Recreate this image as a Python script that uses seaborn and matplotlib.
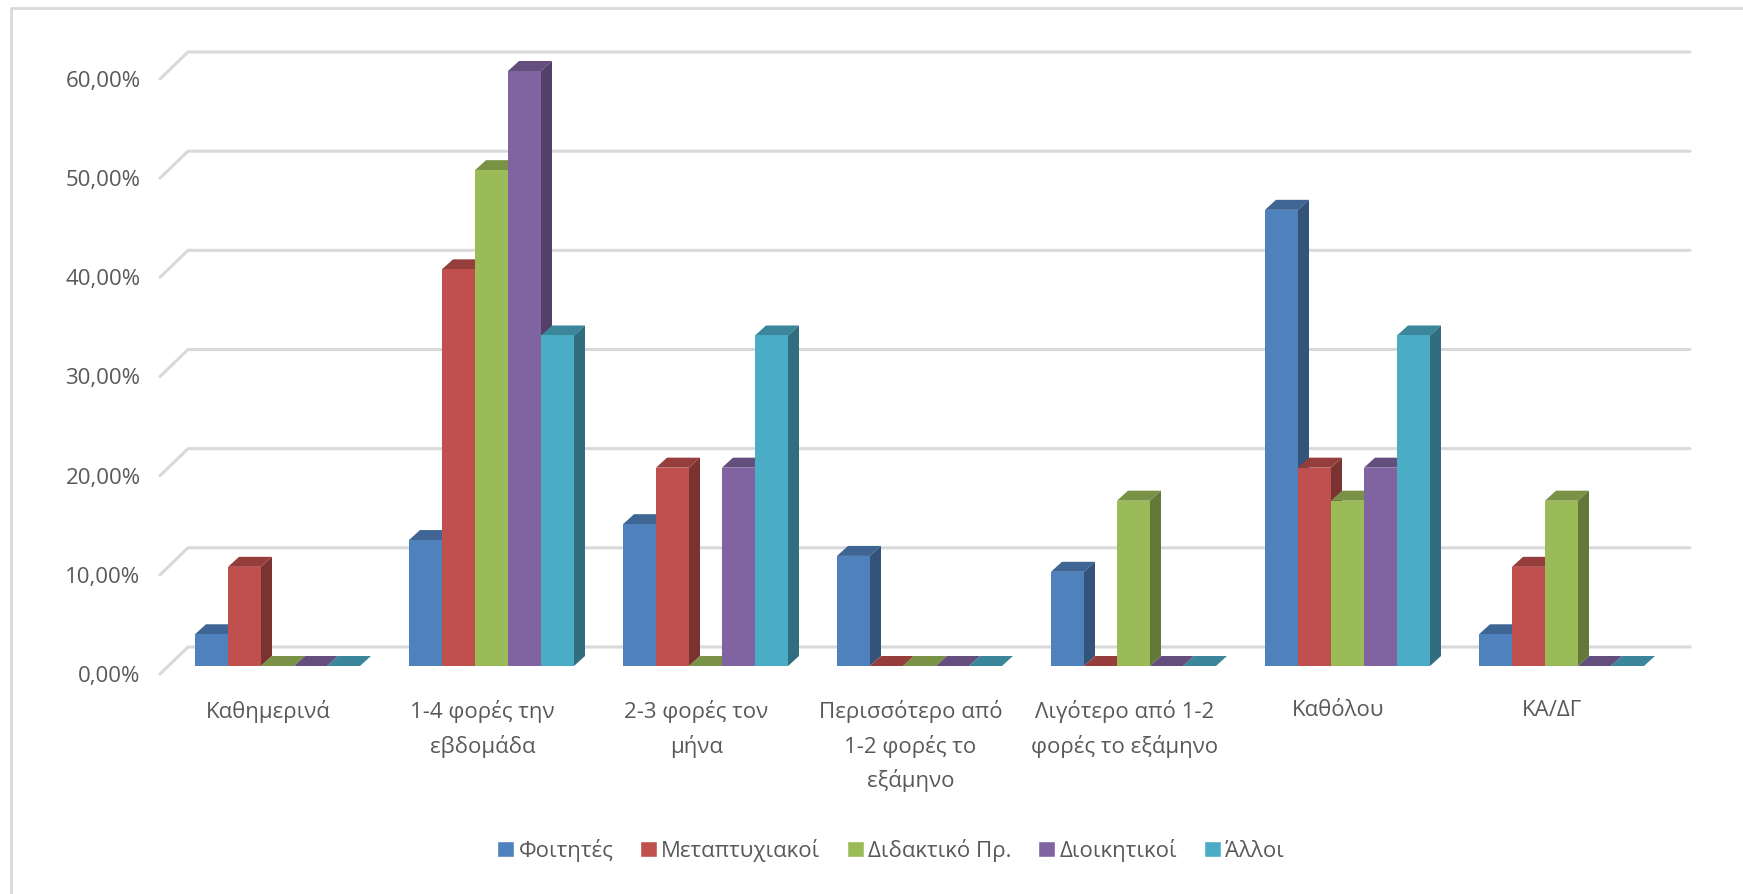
import matplotlib
matplotlib.use("Agg")
import matplotlib.pyplot as plt
import matplotlib.colors as mcolors
from matplotlib.lines import Line2D
from matplotlib.patches import Polygon
from matplotlib.transforms import ScaledTranslation
import pandas as pd
import seaborn as sns

categories = ["Καθημερινά", "1-4 φορές την\nεβδομάδα", "2-3 φορές τον\nμήνα",
              "Περισσότερο από\n1-2 φορές το\nεξάμηνο", "Λιγότερο από 1-2\nφορές το εξάμηνο",
              "Καθόλου", "ΚΑ/ΔΓ"]
series_names = ["Φοιτητές", "Μεταπτυχιακοί", "Διδακτικό Πρ.", "Διοικητικοί", "Άλλοι"]
foitites = [3.2, 12.7, 14.3, 11.1, 9.5, 46.0, 3.2]
metaptyx = [10.0, 40.0, 20.0, 0, 0, 20.0, 10.0]
didaktiko = [0, 50.0, 0, 0, 16.67, 16.67, 16.67]
dioikitikoi = [0, 60.0, 20.0, 0, 0, 20.0, 0]
alloi = [0, 33.33, 33.33, 0, 0, 33.33, 0]
colors = ["#4F81BD", "#C0504D", "#9BBB59", "#8064A2", "#4BACC6"]
yticks = [0, 10, 20, 30, 40, 50, 60]

W, H = 1743, 895
DPI = 100
TEXT = "#595959"
GRID = "#D9D9D9"

# pixel geometry of the chart, measured on the reference
LEFT, RIGHT, TOP, BASE = 160, 1690, 40, 667
PX_PER_UNIT = 595 / 60
PX_PER_CAT = 214
X0_PX = 277.5
DEPTH_X, DEPTH_Y = 11, 10

sns.set_theme(style="white")
plt.rcParams["font.family"] = ["Open Sans", "DejaVu Sans"]

rows = []
for name, vals in zip(series_names, [foitites, metaptyx, didaktiko, dioikitikoi, alloi]):
    for cat, v in zip(categories, vals):
        rows.append({"cat": cat, "series": name, "value": v})
df = pd.DataFrame(rows)

fig = plt.figure(figsize=(W / DPI, H / DPI), dpi=DPI)
ax = fig.add_axes([LEFT / W, 1 - BASE / H, (RIGHT - LEFT) / W, (BASE - TOP) / H])
ax.patch.set_alpha(0)

sns.barplot(df, x="cat", y="value", hue="series", order=categories, hue_order=series_names,
            palette=colors, width=165 / PX_PER_CAT, gap=0, saturation=1, ax=ax, errorbar=None)

ax.set_xlim((LEFT - X0_PX) / PX_PER_CAT, (RIGHT - X0_PX) / PX_PER_CAT)
ax.set_ylim(0, (BASE - TOP) / PX_PER_UNIT)
ax.set_xlabel("")
ax.set_ylabel("")
ax.set_yticks(yticks)
ax.set_yticklabels([f"{v:.2f}".replace(".", ",") + "%" for v in yticks])
sns.despine(ax=ax, left=True, bottom=True, top=True, right=True)
ax.grid(False)
ax.tick_params(axis="both", length=0, colors=TEXT, labelsize=16)
ax.tick_params(axis="y", pad=14)
ax.tick_params(axis="x", pad=24)

# offsets from the front of the bars, in data units
dx = DEPTH_X / PX_PER_CAT
dy = DEPTH_Y / PX_PER_UNIT

# gridlines on the back wall and floor, with the short diagonal towards the labels
for v in yticks:
    back_y = v + 19 / PX_PER_UNIT
    xs = [(160 - X0_PX) / PX_PER_CAT, (188 - X0_PX) / PX_PER_CAT, (RIGHT - X0_PX) / PX_PER_CAT]
    ys = [v - 8 / PX_PER_UNIT, back_y, back_y]
    ax.plot(xs, ys, color=GRID, lw=2.2, zorder=1, solid_joinstyle="round", clip_on=False)


def shade(color, f):
    r, g, b = mcolors.to_rgb(color)
    return (r * f, g * f, b * f)


# extruded tops and sides, each series drawn over the one before it
for i, cont in enumerate(ax.containers):
    z = 3 + i * 2
    for bar in cont:
        x, w, h = bar.get_x(), bar.get_width(), bar.get_height()
        bar.set_zorder(z + 1)
        bar.set_linewidth(0)
        ax.add_patch(Polygon([(x, h), (x + w, h), (x + w + dx, h + dy), (x + dx, h + dy)],
                             fc=shade(colors[i], 0.78), ec="none", zorder=z))
        if h > 0:
            ax.add_patch(Polygon([(x + w, 0), (x + w + dx, dy), (x + w + dx, h + dy), (x + w, h)],
                                 fc=shade(colors[i], 0.64), ec="none", zorder=z))

# tick labels sit a little off the bar axis in the reference
off_y = ScaledTranslation(0, -7 / DPI, fig.dpi_scale_trans)
for lab in ax.get_yticklabels():
    lab.set_transform(lab.get_transform() + off_y)
off_x = ScaledTranslation(-9 / DPI, 0, fig.dpi_scale_trans)
for lab in ax.get_xticklabels():
    lab.set_transform(lab.get_transform() + off_x)
    lab.set_linespacing(1.63)

sns.move_legend(ax, "center", bbox_to_anchor=(0.511, 1 - 851 / H), bbox_transform=fig.transFigure,
                ncol=5, frameon=False, title=None, fontsize=16, labelcolor=TEXT,
                handlelength=0.75, handleheight=0.75, handletextpad=0.2, columnspacing=1.2)

# frame of the screenshot: only the top and left edges show, running off the image
fig.add_artist(Line2D([10.5 / W, 10.5 / W, 1], [0, 1 - 8.5 / H, 1 - 8.5 / H],
                      transform=fig.transFigure, color=GRID, lw=2))

fig.savefig("out.png", dpi=DPI, facecolor="white")
